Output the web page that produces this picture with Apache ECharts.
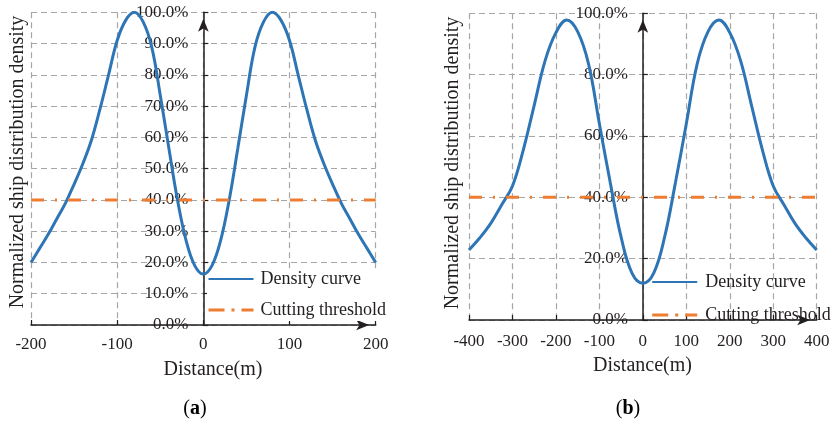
<!DOCTYPE html>
<html>
<head>
<meta charset="utf-8">
<script src="https://cdn.jsdelivr.net/npm/echarts@6/dist/echarts.min.js"></script>
<style>
  html, body { margin: 0; padding: 0; background: #ffffff; }
  #chart { width: 840px; height: 426px; }
</style>
</head>
<body>
<div id="chart"></div>
<script>
// Panel (a): lateral distance within ±200 m
const distanceA = [-200, -190, -180, -170, -160, -150, -140, -130, -120, -110, -100, -90, -80, -70, -60, -50, -40, -30, -20, -10,
  0, 10, 20, 30, 40, 50, 60, 70, 80, 90, 100, 110, 120, 130, 140, 150, 160, 170, 180, 190, 200];
const densityA = [20, 24.5, 29, 34, 39, 45, 51.5, 59, 69, 80, 91, 97.5, 100, 97, 89, 73.5, 56.5, 40, 27, 19,
  16.3, 19, 27, 40, 56.5, 73.5, 89, 97, 100, 97.5, 91, 80, 69, 59, 51.5, 45, 39, 34, 29, 24.5, 20];

// Panel (b): lateral distance within ±400 m
const distanceB = [-400, -375, -350, -325, -300, -275, -250, -225, -200, -175, -150, -125, -100, -75, -50, -25,
  0, 25, 50, 75, 100, 125, 150, 175, 200, 225, 250, 275, 300, 325, 350, 375, 400];
const densityB = [22.8, 26.8, 31.5, 37.5, 43.7, 55.5, 70, 84.5, 93.7, 97.8, 94, 83.5, 64, 44.8, 27, 15.3,
  12, 15.3, 27, 44.8, 64, 83.5, 94, 97.8, 93.7, 84.5, 70, 55.5, 43.7, 37.5, 31.5, 26.8, 22.8];

// Cutting threshold (percent) and the span it is drawn over
const thresholdXA = [-200, 200];
const thresholdA = [40, 40];
const thresholdXB = [-400, 400];
const thresholdB = [40, 40];

// Axis ranges / tick steps
const xTicksA = { min: -200, max: 200, interval: 100 };
const yTicksA = { min: 0, max: 100, interval: 10 };
const xTicksB = { min: -400, max: 400, interval: 100 };
const yTicksB = { min: 0, max: 100, interval: 20 };

const SERIES_NAMES = ['Density curve', 'Cutting threshold'];
const AXIS_TITLE_X = 'Distance(m)';
const AXIS_TITLE_Y = 'Normalized ship distribution density';

const FONT = '"Liberation Serif", "Times New Roman", serif';
const INK = '#231f20';
const BLUE = '#2e75b6';
const ORANGE = '#ed7d31';
const GRID_LINE = { color: '#a6a6a6', type: [6, 4], width: 1.2 };
const DASH_DOT = [13, 11, 2, 11];

const WIDTH = 840;
const gridA = { left: 31, right: 464.3, top: 12.3, bottom: 101 };
const gridB = { left: 469, right: 23.3, top: 13.3, bottom: 106 };

const zip = (xs, ys) => xs.map((x, i) => [x, ys[i]]);
const pct = v => v.toFixed(1) + '%';

// The vertical axis sits at distance 0; shift it there from the grid's left edge.
function zeroOffset(grid, ticks) {
  const w = WIDTH - grid.left - grid.right;
  return -w * (0 - ticks.min) / (ticks.max - ticks.min);
}

function xAxisCfg(gridIndex, ticks, margin) {
  return {
    type: 'value', gridIndex, min: ticks.min, max: ticks.max, interval: ticks.interval,
    axisLine: {
      show: true, onZero: false,
      symbol: ['none', 'arrow'], symbolSize: [8, 13], symbolOffset: [0, -6.5],
      lineStyle: { color: INK, width: 1.5 }
    },
    axisTick: { show: true, inside: true, length: 5, lineStyle: { color: INK, width: 1.2 } },
    axisLabel: { margin, color: INK, fontFamily: FONT, fontSize: 17 },
    splitLine: { show: true, lineStyle: GRID_LINE }
  };
}

function yAxisCfg(gridIndex, ticks, offset) {
  return {
    type: 'value', gridIndex, min: ticks.min, max: ticks.max, interval: ticks.interval,
    offset,
    axisLine: {
      show: true, onZero: false,
      symbol: ['none', 'arrow'], symbolSize: [8, 13], symbolOffset: [0, -6.5],
      lineStyle: { color: INK, width: 1.5 }
    },
    axisTick: { show: true, inside: true, length: 5, lineStyle: { color: INK, width: 1.2 } },
    axisLabel: { margin: 15, color: INK, fontFamily: FONT, fontSize: 17, formatter: pct },
    splitLine: { show: true, lineStyle: GRID_LINE }
  };
}

function curveSeries(axisIndex, points) {
  return {
    name: SERIES_NAMES[0], type: 'line', xAxisIndex: axisIndex, yAxisIndex: axisIndex,
    data: points, smooth: 0.4, symbol: 'none', showSymbol: false,
    lineStyle: { color: BLUE, width: 3 }, itemStyle: { color: BLUE }, z: 3, silent: true
  };
}

function thresholdSeries(axisIndex, points) {
  return {
    name: SERIES_NAMES[1], type: 'line', xAxisIndex: axisIndex, yAxisIndex: axisIndex,
    data: points, symbol: 'none', showSymbol: false,
    lineStyle: { color: ORANGE, width: 3, type: DASH_DOT, cap: 'butt' }, itemStyle: { color: ORANGE }, z: 4, silent: true
  };
}

// Legend box sits above the grid lines but beneath the plotted curves
function legendCfg(left, top, gap, bg, textPad) {
  return {
    orient: 'vertical', left, top, itemGap: gap, itemWidth: 45, itemHeight: 14, z: 2,
    padding: [1, 0, 2, 0], backgroundColor: bg, selectedMode: false,
    itemStyle: { opacity: 0, borderWidth: 0 },
    data: [
      { name: SERIES_NAMES[0] },
      { name: SERIES_NAMES[1], lineStyle: { type: [16, 7, 3, 7], width: 3, color: ORANGE } }
    ],
    textStyle: { color: INK, fontFamily: FONT, fontSize: 18, padding: [0, 0, 0, textPad] }
  };
}

function label(x, y, text, rotation) {
  return {
    type: 'text', x, y, rotation: rotation || 0, silent: true,
    style: { text, font: '20px ' + FONT, fill: INK, align: 'center', verticalAlign: 'middle' }
  };
}

function panelTag(x, y, letter) {
  return {
    type: 'text', x, y, silent: true,
    style: {
      text: '{n|(}{b|' + letter + '}{n|)}', align: 'center', verticalAlign: 'middle',
      rich: {
        n: { fontFamily: FONT, fontSize: 20, color: INK },
        b: { fontFamily: FONT, fontSize: 20, fontWeight: 'bold', color: INK }
      }
    }
  };
}

const chart = echarts.init(document.getElementById('chart'), null, { renderer: 'canvas' });
chart.setOption({
  backgroundColor: '#ffffff',
  animation: false,
  grid: [
    Object.assign({ outerBoundsMode: 'none', containLabel: false }, gridA),
    Object.assign({ outerBoundsMode: 'none', containLabel: false }, gridB)
  ],
  xAxis: [xAxisCfg(0, xTicksA, 11), xAxisCfg(1, xTicksB, 13)],
  yAxis: [yAxisCfg(0, yTicksA, zeroOffset(gridA, xTicksA)), yAxisCfg(1, yTicksB, zeroOffset(gridB, xTicksB))],
  legend: [
    legendCfg(207, 269, 13, '#ffffff', 2),
    legendCfg(650.7, 272, 15, 'transparent', 3)
  ],
  series: [
    curveSeries(0, zip(distanceA, densityA)),
    thresholdSeries(0, zip(thresholdXA, thresholdA)),
    curveSeries(1, zip(distanceB, densityB)),
    thresholdSeries(1, zip(thresholdXB, thresholdB))
  ],
  graphic: [
    label(18, 162, AXIS_TITLE_Y, Math.PI / 2),
    label(453, 163, AXIS_TITLE_Y, Math.PI / 2),
    label(213, 370, AXIS_TITLE_X),
    label(642.5, 366, AXIS_TITLE_X),
    panelTag(195, 409, 'a'),
    panelTag(628, 409, 'b')
  ]
});
</script>
</body>
</html>
